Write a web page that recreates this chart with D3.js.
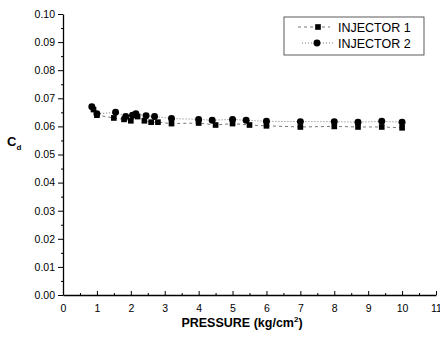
<!DOCTYPE html>
<html>
<head>
<meta charset="utf-8">
<script src="https://cdn.jsdelivr.net/npm/d3@7"></script>
<style>
  body { margin: 0; background: #fff; }
  svg { display: block; font-family: "Liberation Sans", Arial, sans-serif; }
  .axis path, .axis line { stroke: #000; }
  .tick text { font-size: 10.5px; fill: #000; }
</style>
</head>
<body>
<svg id="chart" width="440" height="337"></svg>
<script>
/* Data */

var SERIES_NAMES = ["INJECTOR 1", "INJECTOR 2"];

var injector1Pressure = [0.9, 1.0, 1.5, 1.8, 2.0, 2.2, 2.4, 2.6, 2.8, 3.2, 4.0, 4.5, 5.0, 5.5, 6.0, 7.0, 8.0, 8.7, 9.4, 10.0];
var injector1Cd       = [0.066, 0.064, 0.063, 0.0625, 0.062, 0.0635, 0.062, 0.0615, 0.0615, 0.061, 0.0612, 0.0605, 0.061, 0.0605, 0.0602, 0.0598, 0.060, 0.0598, 0.0598, 0.0595];

var injector2Pressure = [0.85, 1.0, 1.55, 1.85, 2.05, 2.15, 2.45, 2.7, 3.2, 4.0, 4.4, 5.0, 5.4, 6.0, 7.0, 8.0, 8.7, 9.4, 10.0];
var injector2Cd       = [0.067, 0.0645, 0.065, 0.0635, 0.064, 0.0645, 0.0638, 0.0635, 0.0628, 0.0625, 0.0622, 0.0625, 0.0622, 0.0618, 0.0617, 0.0617, 0.0615, 0.0618, 0.0615];

var X_TICKS = d3.range(0, 12);
var Y_TICKS = d3.range(0, 0.1001, 0.01);

/* Measures */

var MARGIN = { left: 63, top: 14 },
    PLOT_W = 373,
    PLOT_H = 281;

var svg = d3.select("#chart");
var g = svg.append("g").attr("transform", "translate(" + MARGIN.left + "," + MARGIN.top + ")");

var x = d3.scaleLinear().domain([0, 11]).range([0, PLOT_W]);
var y = d3.scaleLinear().domain([0, 0.10]).range([PLOT_H, 0]);

/* Axes */

g.append("g").attr("class", "axis")
	.call(d3.axisLeft(y).tickValues(d3.range(0.005, 0.1, 0.01)).tickSize(2).tickFormat(""))
	.call(function(s) { s.select(".domain").remove(); });

g.append("g").attr("class", "axis")
	.call(d3.axisLeft(y).tickValues(Y_TICKS).tickSizeInner(5).tickSizeOuter(0).tickPadding(3)
		.tickFormat(d3.format(".2f")))
	.call(function(s) { s.select(".domain").attr("stroke-width", 1.3); });

g.append("g").attr("class", "axis")
	.attr("transform", "translate(0," + PLOT_H + ")")
	.call(d3.axisBottom(x).tickValues(d3.range(0.5, 11, 1)).tickSize(-2).tickFormat(""))
	.call(function(s) { s.select(".domain").remove(); });

g.append("g").attr("class", "axis")
	.attr("transform", "translate(0," + PLOT_H + ")")
	.call(d3.axisBottom(x).tickValues(X_TICKS).tickSizeInner(-4).tickSizeOuter(0).tickPadding(10)
		.tickFormat(d3.format("d")))
	.call(function(s) { s.select(".domain").attr("stroke-width", 1.3); });

/* Axis titles */

var xTitle = svg.append("text")
	.attr("x", 242)
	.attr("y", 327)
	.attr("text-anchor", "middle")
	.attr("font-size", "12.5px")
	.attr("font-weight", "bold");
xTitle.append("tspan").text("PRESSURE (kg/cm");
xTitle.append("tspan").attr("font-size", "8px").attr("dy", -5).text("2");
xTitle.append("tspan").attr("dy", 5).text(")");

var yTitle = svg.append("text")
	.attr("x", 7)
	.attr("y", 146)
	.attr("font-size", "13px")
	.attr("font-weight", "bold");
yTitle.append("tspan").text("C");
yTitle.append("tspan").attr("font-size", "8px").attr("dy", 4).text("d");

/* Series */

var series = [
	{ name: SERIES_NAMES[0], xs: injector1Pressure, ys: injector1Cd, symbol: d3.symbolSquare, size: 32, dash: "3,3" },
	{ name: SERIES_NAMES[1], xs: injector2Pressure, ys: injector2Cd, symbol: d3.symbolCircle, size: 38, dash: "1,2" }
];

var line = d3.line().x(function(d) { return x(d[0]); }).y(function(d) { return y(d[1]); });

series.forEach(function(s) {
	var pts = d3.zip(s.xs, s.ys);
	g.append("path")
		.datum(pts)
		.attr("d", line)
		.attr("fill", "none")
		.attr("stroke", "#555")
		.attr("stroke-width", 0.8)
		.attr("stroke-dasharray", s.dash);
	g.selectAll(null)
		.data(pts)
		.enter().append("path")
		.attr("transform", function(d) { return "translate(" + x(d[0]) + "," + y(d[1]) + ")"; })
		.attr("d", d3.symbol().type(s.symbol).size(s.size))
		.attr("fill", "#000");
});

/* Legend */

var legend = svg.append("g").attr("transform", "translate(284,17)");

legend.append("rect")
	.attr("width", 140)
	.attr("height", 38)
	.attr("fill", "#fff")
	.attr("stroke", "#333")
	.attr("stroke-width", 0.8);

series.forEach(function(s, i) {
	var row = legend.append("g").attr("transform", "translate(0," + (10 + i * 16) + ")");
	row.append("line")
		.attr("x1", 14 + i * 4).attr("x2", 46 + i * 4)
		.attr("stroke", "#555").attr("stroke-width", 0.8)
		.attr("stroke-dasharray", s.dash);
	row.append("path")
		.attr("transform", "translate(" + (i === 0 ? 34 : 33) + ",0)")
		.attr("d", d3.symbol().type(s.symbol).size(s.size))
		.attr("fill", "#000");
	row.append("text")
		.attr("x", 54)
		.attr("y", 4.5)
		.attr("font-size", "12.5px")
		.text(s.name);
});
</script>
</body>
</html>
